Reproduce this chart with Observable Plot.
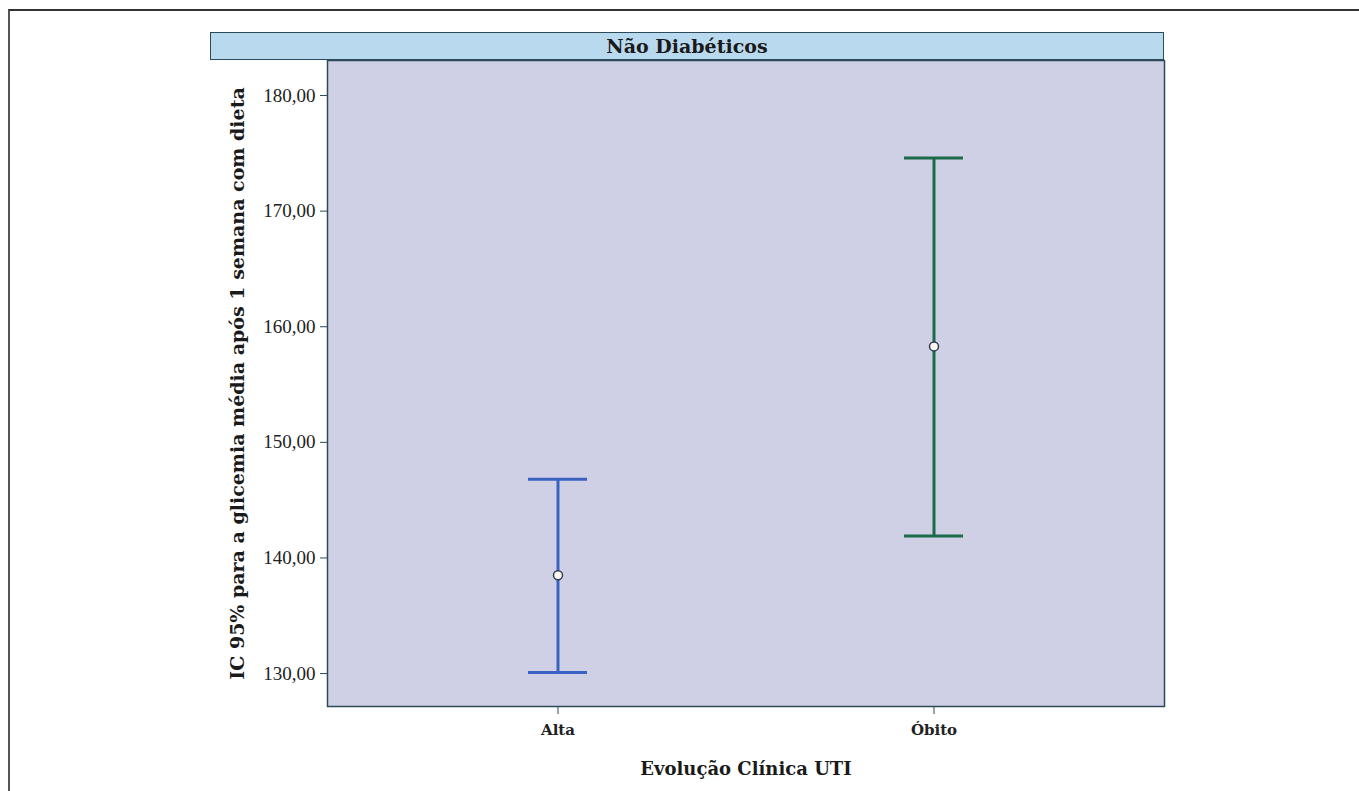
<!DOCTYPE html>
<html><head><meta charset="utf-8">
<script src="https://cdn.jsdelivr.net/npm/d3@7"></script>
<script src="https://cdn.jsdelivr.net/npm/@observablehq/plot@0.6"></script>
<style>
body{margin:0;background:#fff;}
#wrap{position:relative;width:1359px;height:791px;overflow:hidden;}
#frame{position:absolute;left:8px;top:9px;width:1400px;height:900px;border-top:2px solid #333;border-left:2px solid #555;}
#strip{position:absolute;left:210px;top:32px;width:952px;height:26px;background:#b9d9ef;border:1.5px solid #2c4a58;font:bold 19px "DejaVu Serif",serif;text-align:center;line-height:27px;color:#1a1a1a;}
#chart{position:absolute;left:0;top:0;}
</style>
</head><body>
<div id="wrap"><div id="frame"></div><div id="chart"></div><div id="strip">Não Diabéticos</div></div>
<script>
const panelTitle = "Não Diabéticos";
const groups = ["Alta", "Óbito"];
const means = [138.5, 158.3];
const lower = [130.1, 141.9];
const upper = [146.8, 174.6];
const colors = ["#3b62c2", "#1d6a4a"];
const yTicks = [130, 140, 150, 160, 170, 180];
const yLabel = "IC 95% para a glicemia média após 1 semana com dieta";
const xLabel = "Evolução Clínica UTI";

const data = groups.map((g, i) => ({group: g, mean: means[i], lo: lower[i], hi: upper[i]}));
const fmt = d => d.toFixed(2).replace(".", ",");
const ink = "#2c4a58";
const boldFont = "'DejaVu Serif', serif";

const chart = Plot.plot({
  width: 1359, height: 791,
  marginLeft: 327, marginRight: 195, marginTop: 60, marginBottom: 85,
  style: {background: "transparent", fontFamily: "'Liberation Serif', serif", color: "#222"},
  x: {domain: groups, type: "band", paddingInner: 0.8435, paddingOuter: 0.532, label: null},
  y: {domain: [127.15, 183.03], label: null},
  color: {domain: groups, range: colors},
  marks: [
    Plot.frame({fill: "#cfd0e6"}),
    Plot.axisY({ticks: yTicks, tickFormat: fmt, tickSize: 7, tickPadding: 5, fontSize: 19, stroke: ink, label: null}),
    Plot.axisX({tickSize: 8, tickPadding: 10, fontSize: 15, fontWeight: "bold", fontFamily: boldFont, stroke: ink, label: null}),
    Plot.ruleX(data, {x: "group", y1: "lo", y2: "hi", stroke: "group", strokeWidth: 3}),
    Plot.tickY(data, {x: "group", y: "lo", stroke: "group", strokeWidth: 3}),
    Plot.tickY(data, {x: "group", y: "hi", stroke: "group", strokeWidth: 3}),
    Plot.dot(data, {x: "group", y: "mean", r: 4.5, fill: "#fff8ef", stroke: "#2a3f52", strokeWidth: 1.5}),
    Plot.frame({stroke: ink, strokeWidth: 1.5}),
    Plot.text([yLabel], {text: d => d, frameAnchor: "left", textAnchor: "middle", dx: -90, rotate: -90, fontSize: 19, fontWeight: "bold", fontFamily: boldFont, fill: "#1a1a1a"}),
    Plot.text([xLabel], {text: d => d, frameAnchor: "bottom", dy: 68, fontSize: 18, fontWeight: "bold", fontFamily: boldFont, fill: "#1a1a1a"})
  ]
});
document.getElementById("chart").appendChild(chart);
</script>
</body></html>
